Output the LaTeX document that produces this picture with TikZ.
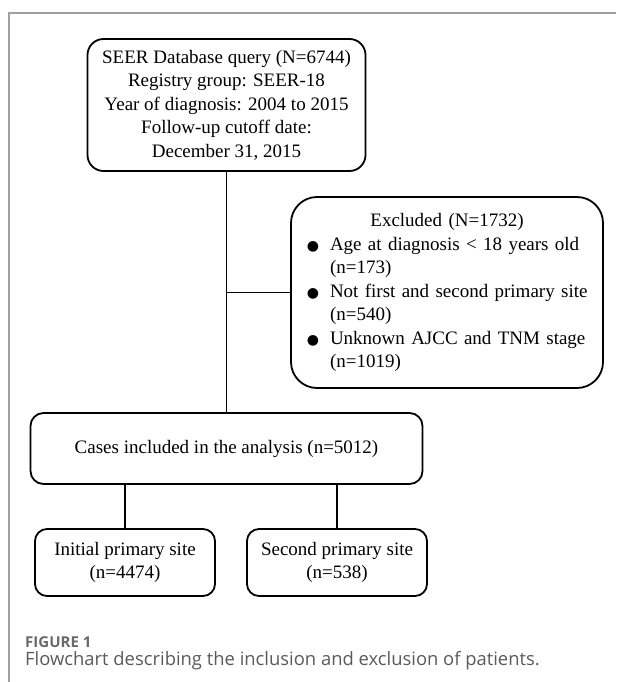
\documentclass[tikz,border=0pt]{standalone}
\usepackage{fontspec}
\setmainfont{Liberation Serif}
\newfontfamily\capfont{Open Sans}
\newfontfamily\symfont{DejaVu Sans}
\definecolor{framegray}{RGB}{160,160,160}
\definecolor{figgray}{RGB}{105,105,105}
\definecolor{capgray}{RGB}{90,90,90}
\newcommand{\bul}{\leavevmode\llap{\makebox[0pt][c]{{\symfont\fontsize{14}{14}\selectfont ●}}\hspace{17pt}}}
\begin{document}
\begin{tikzpicture}[x=1pt,y=-1pt,
  flowbox/.style={draw, line width=1.8pt, inner sep=0pt, align=center,
    font=\fontsize{19}{23.5}\selectfont},
  conn/.style={line width=1.2pt}]
\useasboundingbox (0,0) rectangle (616,682);
% frame
\coordinate (fa) at (616,13);
\coordinate (fb) at (9,13);
\coordinate (fc) at (9,682);
\draw[framegray, line width=1.2pt] (fa) -- (fb) -- (fc);
% nodes
\node[flowbox, rounded corners=16pt, minimum width=278pt, minimum height=132pt] (db) at (226.5,105)
  {SEER Database query (N=6744)\\Registry group: SEER-18\\Year of diagnosis: 2004 to 2015\\Follow-up cutoff date:\\December 31, 2015};
\node[draw, line width=1.8pt, inner sep=0pt, rounded corners=26pt, minimum width=312pt, minimum height=191pt,
  text width=312pt, font=\fontsize{19}{23.5}\selectfont] (ex) at (447,292.5)
  {{\centering Excluded (N=1732)\par}
   \parindent=0pt\leftskip=39pt\rightskip=0pt plus 1fil\parfillskip=0pt plus 1fil
   \bul Age at diagnosis < 18 years old\par
   \leavevmode(n=173)\par
   \bul Not first and second primary site\par
   \leavevmode(n=540)\par
   \bul Unknown AJCC and TNM stage\par
   \leavevmode(n=1019)\par};
\node[flowbox, rounded corners=13pt, minimum width=392pt, minimum height=71pt] (cases) at (226.5,448.5)
  {Cases included in the analysis (n=5012)};
\node[flowbox, rounded corners=12pt, minimum width=180pt, minimum height=67pt] (init) at (125,562.5)
  {Initial primary site\\(n=4474)};
\node[flowbox, rounded corners=12pt, minimum width=180pt, minimum height=67pt] (second) at (337,562.5)
  {Second primary site\\(n=538)};
% connectors
\draw[conn] (db.south) -- (cases.north);
\coordinate (j) at (db.south |- ex.west);
\draw[conn] (j) -- (ex.west);
\draw[conn] (init.north |- cases.south) -- (init.north);
\draw[conn] (second.north |- cases.south) -- (second.north);
% caption
\node[anchor=base west, inner sep=0pt, text=figgray, font=\capfont\bfseries\fontsize{15}{15}\selectfont] (fig) at (25,647) {FIGURE 1};
\node[anchor=base west, inner sep=0pt, text=capgray, font=\capfont\fontsize{18.4}{18.4}\selectfont] (cap) at (25,665) {Flowchart describing the inclusion and exclusion of patients.};
\end{tikzpicture}
\end{document}
